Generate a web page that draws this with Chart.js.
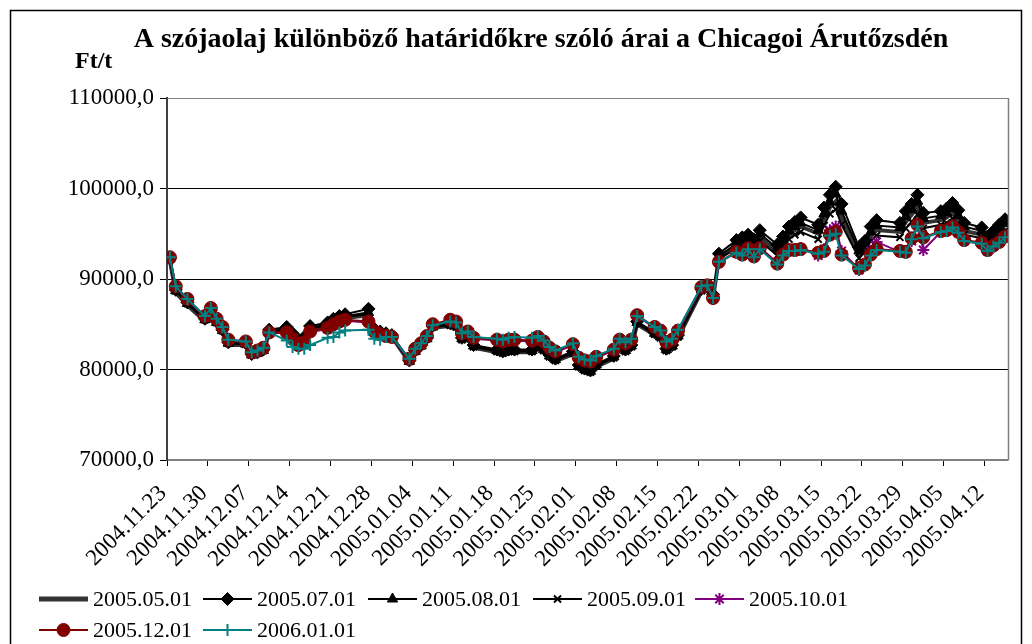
<!DOCTYPE html>
<html>
<head>
<meta charset="utf-8">
<script src="https://cdn.jsdelivr.net/npm/chart.js@4.4.1/dist/chart.umd.min.js"></script>
<style>
  html, body { margin: 0; padding: 0; background: #fff; }
</style>
</head>
<body>
<canvas id="myChart" width="1032" height="644"></canvas>
<script>
// trading days (CBOT)
const dates = [
  '2004.11.23','2004.11.24','2004.11.26','2004.11.29','2004.11.30',
  '2004.12.01','2004.12.02','2004.12.03','2004.12.06','2004.12.07','2004.12.08','2004.12.09','2004.12.10','2004.12.13','2004.12.14','2004.12.15','2004.12.16','2004.12.17','2004.12.20','2004.12.21','2004.12.22','2004.12.23','2004.12.27','2004.12.28','2004.12.29','2004.12.30','2004.12.31',
  '2005.01.03','2005.01.04','2005.01.05','2005.01.06','2005.01.07','2005.01.10','2005.01.11','2005.01.12','2005.01.13','2005.01.14','2005.01.18','2005.01.19','2005.01.20','2005.01.21','2005.01.24','2005.01.25','2005.01.26','2005.01.27','2005.01.28','2005.01.31',
  '2005.02.01','2005.02.02','2005.02.03','2005.02.04','2005.02.07','2005.02.08','2005.02.09','2005.02.10','2005.02.11','2005.02.14','2005.02.15','2005.02.16','2005.02.17','2005.02.18','2005.02.22','2005.02.23','2005.02.24','2005.02.25','2005.02.28',
  '2005.03.01','2005.03.02','2005.03.03','2005.03.04','2005.03.07','2005.03.08','2005.03.09','2005.03.10','2005.03.11','2005.03.14','2005.03.15','2005.03.16','2005.03.17','2005.03.18','2005.03.21','2005.03.22','2005.03.23','2005.03.24','2005.03.28','2005.03.29','2005.03.30','2005.03.31',
  '2005.04.01','2005.04.04','2005.04.05','2005.04.06','2005.04.07','2005.04.08','2005.04.11','2005.04.12','2005.04.13','2005.04.14','2005.04.15'
];

// Ft/t
const may05 = [
  92000, 88500, 87100, 85300, 86200,
  85000, 84100, 82700, 82700, 81500, 81700, 82000, 84000, 84300, 83600, 82900, 83200, 84400, 84800, 85200, 85500, 85700, 86000, 84300, 84000, 83800, 83600,
  80800, 81900, 82500, 83300, 84600, 84800, 84600, 83200, 83400, 82400, 81900, 81700, 81900, 81900, 81900, 82400, 82000, 81300, 80900, 81700,
  80200, 79800, 79500, 80300, 81200, 82300, 81900, 82400, 85000, 83800, 83400, 81900, 82400, 83500, 88600, 88900, 87900, 92300, 93600,
  93800, 94200, 93600, 94600, 93000, 93900, 94900, 95400, 95800, 95000, 96600, 97900, 98600, 96800, 92700, 93400, 94700, 95400, 95200, 96300, 97100, 97900,
  96200, 96500, 96800, 97300, 96500, 95300, 94900, 93900, 94500, 95100, 95700
];
const jul05 = [
  92300, 88800, 87400, 85600, 86500,
  85300, 84400, 83000, 82900, 81700, 81900, 82200, 84400, 84700, 84000, 83300, 83600, 84800, 85200, 85600, 85900, 86100, 86700, 84500, 84200, 84000, 83800,
  81000, 82100, 82700, 83500, 84800, 85100, 84900, 83500, 83700, 82700, 82200, 82000, 82200, 82200, 82200, 82700, 82300, 81600, 81200, 82000,
  80500, 80100, 79900, 80600, 81500, 82600, 82200, 82700, 85300, 84100, 83700, 82300, 82700, 83800, 88900, 89200, 88300, 92800, 94300,
  94600, 94900, 94400, 95400, 93800, 94700, 95800, 96300, 96800, 96000, 97900, 99300, 100200, 98300, 93500, 94200, 95800, 96500, 96200, 97500, 98300, 99300,
  97300, 97500, 97800, 98400, 97600, 96200, 95700, 94700, 95300, 96000, 96600
];
const aug05 = [
  92200, 88700, 87300, 85500, 86400,
  85200, 84300, 82900, 82800, 81600, 81800, 82100, 84200, 84500, 83800, 83100, 83400, 84600, 85000, 85400, 85700, 85900, 86300, 84400, 84100, 83900, 83700,
  80900, 82000, 82600, 83400, 84700, 85000, 84800, 83400, 83600, 82600, 82100, 81900, 82100, 82100, 82100, 82600, 82200, 81500, 81100, 81900,
  80400, 80000, 79800, 80500, 81400, 82500, 82100, 82600, 85200, 84000, 83600, 82200, 82600, 83700, 88800, 89100, 88100, 92500, 93900,
  94200, 94500, 94000, 95000, 93400, 94300, 95300, 95800, 96200, 95400, 97200, 98500, 99400, 97500, 93100, 93800, 95200, 95900, 95700, 96900, 97700, 98600,
  96700, 97000, 97300, 97800, 97000, 95800, 95300, 94300, 94900, 95500, 96100
];
const sep05 = [
  92100, 88700, 87300, 85500, 86400,
  85200, 84300, 82900, 82800, 81600, 81800, 82100, 84100, 84400, 83700, 83000, 83300, 84500, 84900, 85300, 85600, 85800, 86100, 84300, 84000, 83800, 83600,
  80900, 82000, 82600, 83400, 84700, 84900, 84700, 83300, 83500, 82500, 82000, 81800, 82000, 82000, 82000, 82500, 82100, 81400, 81000, 81800,
  80300, 79900, 79700, 80400, 81300, 82400, 82000, 82500, 85100, 83900, 83500, 82100, 82500, 83600, 88700, 89000, 88000, 92200, 93400,
  93500, 93900, 93300, 94200, 92600, 93500, 94400, 94900, 95200, 94400, 95900, 97200, 97700, 96000, 92300, 93000, 94200, 94800, 94600, 95600, 96300, 97100,
  95600, 96000, 96200, 96700, 96000, 94900, 94500, 93600, 94200, 94700, 95300
];
const oct05 = [
  92300, 89100, 87700, 85800, 86700,
  85500, 84600, 83200, 83000, 81800, 82000, 82300, 84100, 84000, 83300, 82600, 82900, 84100, 84500, 84900, 85200, 85400, 85200, 84100, 83800, 83600, 83500,
  81100, 82200, 82800, 83600, 84900, 85400, 85200, 83900, 84100, 83400, 83200, 83000, 83200, 83200, 83100, 83500, 83000, 82300, 81900, 82700,
  81200, 80900, 80800, 81300, 82100, 83200, 82800, 83200, 85900, 84600, 84200, 82900, 83200, 84200, 89000, 89200, 87800, 91800, 92900,
  92700, 93300, 92400, 93500, 91800, 92600, 93200, 93300, 93400, 92600, 93300, 95400, 95800, 93100, 91000, 91600, 93100, 94100, 93000, 92900, 94200, 96100,
  93200, 95200, 95300, 95900, 95100, 94200, 93900, 93100, 93600, 94000, 94600
];
const dec05 = [
  92400, 89200, 87800, 85900, 86800,
  85600, 84700, 83300, 83100, 81900, 82100, 82400, 84100, 84100, 83400, 82700, 83000, 84200, 84600, 85000, 85300, 85500, 85300, 84200, 83900, 83700, 83600,
  81200, 82300, 82900, 83700, 85000, 85500, 85300, 84000, 84200, 83500, 83300, 83100, 83300, 83300, 83200, 83600, 83100, 82400, 82000, 82800,
  81300, 81000, 80900, 81400, 82200, 83300, 82900, 83300, 86000, 84700, 84300, 83000, 83300, 84300, 89100, 89300, 87900, 91900, 93000,
  92700, 93400, 92500, 93400, 91700, 92700, 93200, 93200, 93300, 92900, 93100, 94900, 95200, 92700, 91200, 91600, 92700, 93300, 93100, 93000, 94500, 96000,
  94600, 95300, 95400, 95800, 95200, 94300, 94000, 93200, 93700, 94100, 94700
];
const jan06 = [
  92400, 89200, 87800, 85900, 86800,
  85600, 84700, 83300, 83100, 81900, 82100, 82400, 84100, 83200, 82500, 82300, 82300, 82700, 83500, 83600, 84100, 84300, 84400, 83400, 83300, 83600, 83600,
  81200, 82300, 82900, 83700, 84900, 85300, 85200, 84000, 84200, 83600, 83400, 83300, 83500, 83600, 83500, 83700, 83200, 82500, 82100, 82900,
  81400, 81100, 81000, 81500, 82300, 83400, 83000, 83400, 85900, 84700, 84300, 83100, 83400, 84400, 89200, 89300, 87900, 91900, 92900,
  92600, 93300, 92400, 93300, 91600, 92600, 93100, 93100, 93200, 92800, 93000, 94800, 95000, 92600, 91100, 91500, 92600, 93200, 93000, 92900, 94400, 95800,
  94500, 95200, 95300, 95700, 95100, 94200, 93900, 93100, 93600, 94000, 94600
];

const seriesNames = ['2005.05.01', '2005.07.01', '2005.08.01', '2005.09.01', '2005.10.01', '2005.12.01', '2006.01.01'];
const yTicks = [70000, 80000, 90000, 100000, 110000];

const serif = '"Liberation Serif", "Times New Roman", serif';
const start = Date.UTC(2004, 10, 23);
function dayOf(s) {
  const p = s.split('.');
  return Math.round((Date.UTC(+p[0], +p[1] - 1, +p[2]) - start) / 86400000);
}
function pad(n) { return n < 10 ? '0' + n : '' + n; }
function labelOf(d) {
  const t = new Date(start + d * 86400000);
  return t.getUTCFullYear() + '.' + pad(t.getUTCMonth() + 1) + '.' + pad(t.getUTCDate());
}
function pts(vals) {
  return dates.map((s, i) => ({ x: dayOf(s) + 0.5, y: vals[i] }));
}

const styles = [
  { color: '#333333', width: 4, style: false, r: 0 },
  { color: '#000000', width: 2, style: 'rectRot', r: 6.5 },
  { color: '#000000', width: 2, style: 'triangle', r: 6 },
  { color: '#000000', width: 2, style: 'crossRot', r: 5 },
  { color: '#800080', width: 2, style: 'star', r: 6 },
  { color: '#800000', width: 2, style: 'circle', r: 6.5 },
  { color: '#008080', width: 2, style: 'cross', r: 6 }
];
const allVals = [may05, jul05, aug05, sep05, oct05, dec05, jan06];

const datasets = allVals.map((v, i) => ({
  label: seriesNames[i],
  data: pts(v),
  borderColor: styles[i].color,
  backgroundColor: styles[i].color,
  borderWidth: styles[i].width,
  pointStyle: styles[i].style,
  pointRadius: styles[i].r,
  pointBorderWidth: (styles[i].style === 'cross' || styles[i].style === 'crossRot' || styles[i].style === 'star') ? 2 : 1,
  pointBorderColor: styles[i].color,
  pointBackgroundColor: styles[i].color,
  tension: 0,
  order: 6 - i
}));

// legend layout: [line start x, centre y]
const legendPos = [[39, 599], [203, 599], [368, 599], [533, 599], [695, 599], [39, 630], [203, 630]];

const extras = {
  id: 'extras',
  beforeDraw(chart) {
    const c = chart.ctx;
    c.save();
    c.fillStyle = '#fff';
    c.fillRect(0, 0, chart.width, chart.height);
    c.restore();
  },
  afterDraw(chart) {
    const c = chart.ctx;
    const a = chart.chartArea;
    c.save();
    // plot border right
    c.strokeStyle = '#808080';
    c.lineWidth = 1.5;
    c.beginPath();
    c.moveTo(a.right + 0.5, a.top);
    c.lineTo(a.right + 0.5, a.bottom);
    c.stroke();

    // outer frame
    c.strokeStyle = '#000';
    c.lineWidth = 1.5;
    c.beginPath();
    c.moveTo(10.5, 644);
    c.lineTo(10.5, 10.5);
    c.lineTo(1021.5, 10.5);
    c.lineTo(1021.5, 644);
    c.stroke();

    // title
    c.fillStyle = '#000';
    c.textAlign = 'center';
    c.textBaseline = 'alphabetic';
    c.font = 'bold 28px ' + serif;
    c.fillText('A szójaolaj különböző határidőkre szóló árai a Chicagoi Árutőzsdén', 541, 47);
    c.textAlign = 'left';
    c.font = 'bold 24px ' + serif;
    c.fillText('Ft/t', 75, 68);

    // legend
    c.font = '22px ' + serif;
    c.textBaseline = 'middle';
    seriesNames.forEach((name, i) => {
      const [x, y] = legendPos[i];
      const s = styles[i];
      c.strokeStyle = s.color;
      c.fillStyle = s.color;
      c.lineWidth = i === 0 ? 5 : 2;
      c.beginPath();
      c.moveTo(x, y);
      c.lineTo(x + 49, y);
      c.stroke();
      if (s.style) {
        c.lineWidth = datasets[i].pointBorderWidth;
        Chart.helpers.drawPoint(c, { pointStyle: s.style, radius: s.r, rotation: 0, borderWidth: datasets[i].pointBorderWidth }, x + 24.5, y);
      }
      c.fillStyle = '#000';
      c.fillText(name, x + 54, y + 1);
    });
    c.restore();
  }
};

const ctx = document.getElementById('myChart').getContext('2d');
const myChart = new Chart(ctx, {
  type: 'line',
  data: { datasets: datasets },
  options: {
    responsive: false,
    animation: false,
    devicePixelRatio: 1,
    layout: { padding: { top: 98, right: 24, left: 0, bottom: 0 } },
    plugins: { legend: { display: false }, title: { display: false }, tooltip: { enabled: false } },
    scales: {
      x: {
        type: 'linear',
        min: 0,
        max: 144,
        afterBuildTicks: s => {
          s.ticks = [];
          for (let d = 0; d <= 140; d += 7) s.ticks.push({ value: d });
        },
        ticks: {
          autoSkip: false,
          maxRotation: 45,
          minRotation: 45,
          padding: 14,
          labelOffset: -4,
          color: '#000',
          font: { family: serif, size: 23 },
          callback: v => labelOf(v)
        },
        grid: { drawOnChartArea: false, tickLength: 6, tickColor: '#000', tickWidth: 1 },
        border: { color: '#808080', width: 1.5 },
        afterFit: s => { s.height = 184; }
      },
      y: {
        min: 70000,
        max: 110000,
        afterBuildTicks: s => { s.ticks = yTicks.map(v => ({ value: v })); },
        ticks: {
          padding: 6,
          color: '#000',
          font: { family: serif, size: 23 },
          callback: v => v + ',0'
        },
        grid: {
          color: c => (c.tick && (c.tick.value === 110000 || c.tick.value === 70000)) ? '#808080' : '#000',
          lineWidth: 1,
          tickLength: 7,
          tickColor: '#000'
        },
        border: { color: '#404040', width: 2 },
        afterFit: s => { s.width = 167; }
      }
    }
  },
  plugins: [extras]
});
</script>
</body>
</html>
